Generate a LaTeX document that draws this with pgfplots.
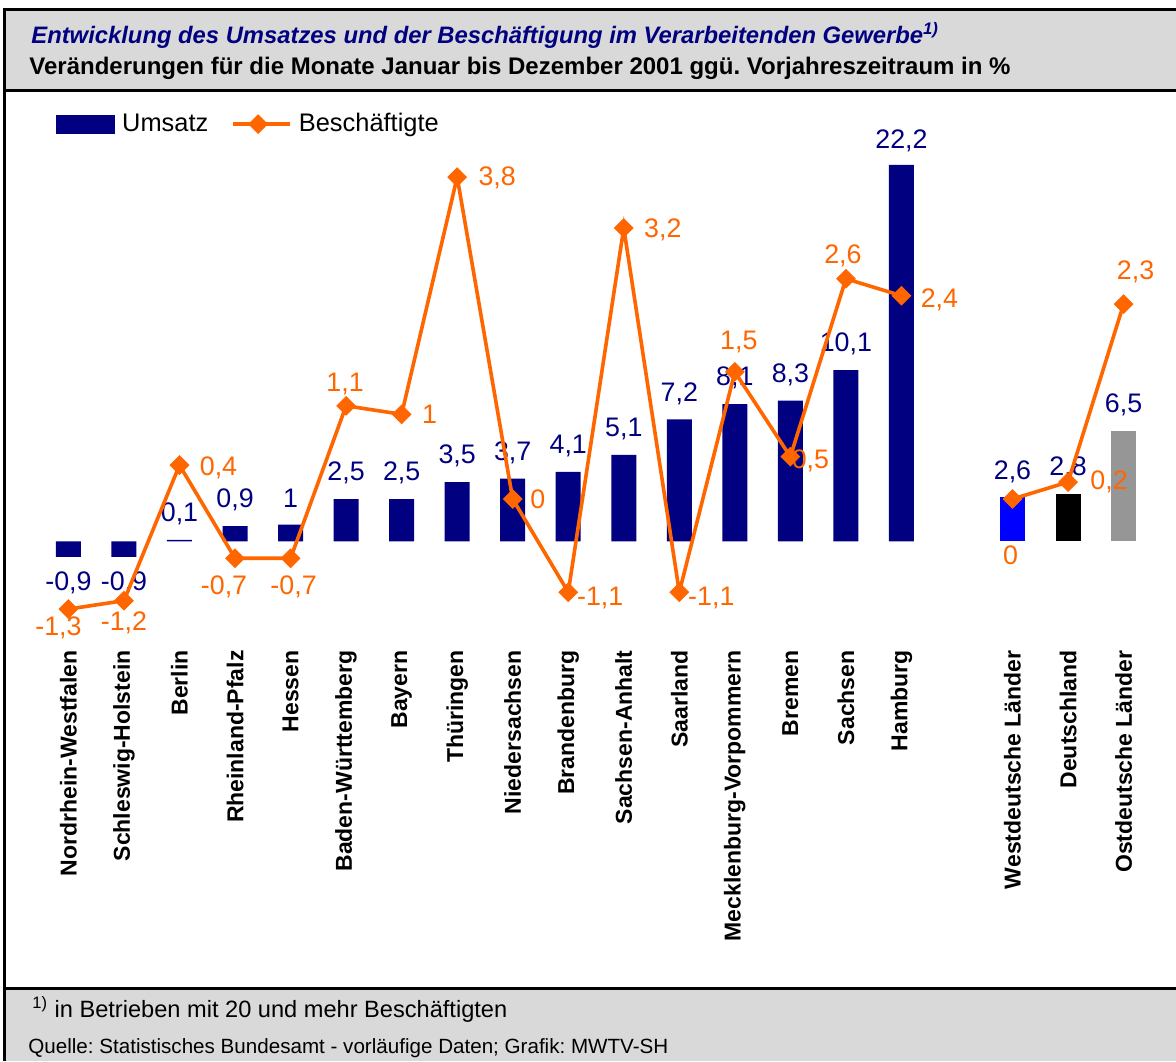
\documentclass[border=0pt]{standalone}
\usepackage{fontspec}
\setmainfont{Liberation Sans}
\usepackage{pgfplots}
\pgfplotsset{compat=1.18}
\frenchspacing

\definecolor{navyc}{HTML}{000080}
\definecolor{orangec}{HTML}{FF6600}
\definecolor{bluec}{HTML}{0000FF}
\definecolor{grayc}{HTML}{969696}
\definecolor{bandc}{HTML}{D9D9D9}

\newcommand{\lbl}{\fontsize{13.4}{15}\selectfont}

\pgfplotsset{
  beschline/.style={orangec, line width=1.8pt, mark=square*,
    mark options={rotate=45, solid, line width=0.4pt}, mark size=3.3pt},
}

\begin{document}
\begin{tikzpicture}
% frame, header and footer (1 unit = 1 px of the reference)
\begin{scope}[x=0.5pt,y=-0.5pt]
\fill[white] (0,0) rectangle (1176,1061);
\fill[bandc] (4,9) rectangle (1176,90);
\fill[bandc] (4,988) rectangle (1176,1061);
\draw[line width=1.5pt] (1176,9.5) -- (4.5,9.5) -- (4.5,1061);
\draw[line width=1.5pt] (4.5,90) -- (1176,90);
\draw[line width=1.5pt] (4.5,988) -- (1176,988);
\node[anchor=base west, inner sep=0pt, text=navyc, font=\bfseries\itshape\fontsize{11.9}{14}\selectfont]
  at (31,43) {Entwicklung des Umsatzes und der Beschäftigung im Verarbeitenden Gewerbe\textsuperscript{1)}};
\node[anchor=base west, inner sep=0pt, font=\bfseries\fontsize{12}{14}\selectfont]
  at (29,74) {Veränderungen für die Monate Januar bis Dezember 2001 ggü. Vorjahreszeitraum in \%};
\node[anchor=base west, inner sep=0pt, font=\fontsize{11.8}{14}\selectfont]
  at (32,1017) {\textsuperscript{1)} in Betrieben mit 20 und mehr Beschäftigten};
\node[anchor=base west, inner sep=0pt, font=\fontsize{10.3}{12}\selectfont]
  at (28,1053) {Quelle: Statistisches Bundesamt - vorläufige Daten; Grafik: MWTV-SH};
\end{scope}

% Umsatz (bars)
\begin{axis}[
  at={(12pt,-310pt)}, anchor=south west,
  scale only axis, width=572pt, height=235pt,
  xmin=-0.8, xmax=19.8, ymin=-4.63, ymax=23.08,
  axis line style={draw=none}, tick style={draw=none},
  ytick=\empty,
  xtick={0,1,2,3,4,5,6,7,8,9,10,11,12,13,14,15,17,18,19},
  xticklabels={Nordrhein-Westfalen,Schleswig-Holstein,Berlin,Rheinland-Pfalz,Hessen,
    Baden-Württemberg,Bayern,Thüringen,Niedersachsen,Brandenburg,Sachsen-Anhalt,
    Saarland,Mecklenburg-Vorpommern,Bremen,Sachsen,Hamburg,
    Westdeutsche Länder,Deutschland,Ostdeutsche Länder},
  xticklabel style={rotate=90, anchor=east, inner sep=0pt,
    font=\bfseries\fontsize{11.5}{13}\selectfont},
  xticklabel shift=15pt,
  clip=false,
]
\addplot[ybar, bar width=12.5pt, bar shift=0pt, fill=navyc, draw=none] coordinates {
  (0,-0.9) (1,-0.9) (2,0.1) (3,0.9) (4,1) (5,2.5) (6,2.5) (7,3.5) (8,3.7)
  (9,4.1) (10,5.1) (11,7.2) (12,8.1) (13,8.3) (14,10.1) (15,22.2)
};
\addplot[ybar, bar width=12.5pt, bar shift=0pt, fill=bluec, draw=none] coordinates {(17,2.6)};
\addplot[ybar, bar width=12.5pt, bar shift=0pt, fill=black, draw=none] coordinates {(18,2.8)};
\addplot[ybar, bar width=12.5pt, bar shift=0pt, fill=grayc, draw=none] coordinates {(19,6.5)};

\begin{scope}[every node/.style={text=navyc, font=\lbl, inner sep=0pt}]
\node[yshift=-13pt] at (axis cs:0,-0.9) {-0,9};
\node[yshift=-13pt] at (axis cs:1,-0.9) {-0,9};
\node[yshift=13pt] at (axis cs:2,0.1) {0,1};
\node[yshift=13pt] at (axis cs:3,0.9) {0,9};
\node[yshift=13pt] at (axis cs:4,1) {1};
\node[yshift=13pt] at (axis cs:5,2.5) {2,5};
\node[yshift=13pt] at (axis cs:6,2.5) {2,5};
\node[yshift=13pt] at (axis cs:7,3.5) {3,5};
\node[yshift=13pt] at (axis cs:8,3.7) {3,7};
\node[yshift=13pt] at (axis cs:9,4.1) {4,1};
\node[yshift=13pt] at (axis cs:10,5.1) {5,1};
\node[yshift=13pt] at (axis cs:11,7.2) {7,2};
\node[yshift=13pt] at (axis cs:12,8.1) {8,1};
\node[yshift=13pt] at (axis cs:13,8.3) {8,3};
\node[yshift=13pt] at (axis cs:14,10.1) {10,1};
\node[yshift=12pt] at (axis cs:15,22.2) {22,2};
\node[yshift=13pt] at (axis cs:17,2.6) {2,6};
\node[yshift=13pt] at (axis cs:18,2.8) {2,8};
\node[yshift=13pt] at (axis cs:19,6.5) {6,5};
\end{scope}
\end{axis}

% Beschaeftigte (line, own scale)
\begin{axis}[
  at={(12pt,-310pt)}, anchor=south west,
  scale only axis, width=572pt, height=235pt,
  xmin=-0.8, xmax=19.8, ymin=-1.4286, ymax=4.12,
  hide axis, clip=false,
  legend columns=2,
  legend cell align=left,
  legend image code/.code={\draw[mark repeat=2,mark phase=2,#1]
    plot coordinates {(0pt,0pt) (12.5pt,0pt) (28.5pt,0pt)};},
  legend style={at={(axis description cs:0.028,1.055)}, anchor=west,
    draw=none, fill=none, inner sep=0pt,
    font=\fontsize{12.7}{14}\selectfont,
    nodes={inner ysep=2pt, inner xsep=3.5pt},
    /tikz/every even column/.append style={column sep=8pt}},
]
\addlegendimage{legend image code/.code={\fill[navyc] (0pt,-4.5pt) rectangle (29pt,4.5pt);}}
\addlegendentry{Umsatz}
\addplot[beschline] coordinates {
  (0,-1.3) (1,-1.2) (2,0.4) (3,-0.7) (4,-0.7) (5,1.1) (6,1) (7,3.8) (8,0)
  (9,-1.1) (10,3.2) (11,-1.1) (12,1.5) (13,0.5) (14,2.6) (15,2.4)
};
\addlegendentry{Beschäftigte}
\addplot[beschline, forget plot] coordinates {
  (17,0) (18,0.2) (19,2.3)
};

\begin{scope}[every node/.style={text=orangec, font=\lbl, inner sep=0pt}]
\node[xshift=-5pt, yshift=-9.5pt] at (axis cs:0,-1.3) {-1,3};
\node[yshift=-11pt] at (axis cs:1,-1.2) {-1,2};
\node[xshift=19.5pt, yshift=-1.5pt] at (axis cs:2,0.4) {0,4};
\node[xshift=-5.5pt, yshift=-14.5pt] at (axis cs:3,-0.7) {-0,7};
\node[xshift=1.5pt, yshift=-14.5pt] at (axis cs:4,-0.7) {-0,7};
\node[xshift=-0.5pt, yshift=11pt] at (axis cs:5,1.1) {1,1};
\node[xshift=14pt] at (axis cs:6,1) {1};
\node[xshift=20pt, yshift=-0.5pt] at (axis cs:7,3.8) {3,8};
\node[xshift=12.5pt] at (axis cs:8,0) {0};
\node[xshift=16pt, yshift=-3pt] at (axis cs:9,-1.1) {-1,1};
\node[xshift=19.5pt, yshift=-1pt] at (axis cs:10,3.2) {3,2};
\node[xshift=16pt, yshift=-3pt] at (axis cs:11,-1.1) {-1,1};
\node[xshift=2pt, yshift=15pt] at (axis cs:12,1.5) {1,5};
\node[xshift=10pt, yshift=-2pt] at (axis cs:13,0.5) {0,5};
\node[xshift=-1.5pt, yshift=11.5pt] at (axis cs:14,2.6) {2,6};
\node[xshift=19pt, yshift=-2pt] at (axis cs:15,2.4) {2,4};
\node[xshift=-1pt, yshift=-28pt] at (axis cs:17,0) {0};
\node[xshift=20.5pt] at (axis cs:18,0.2) {0,2};
\node[xshift=6pt, yshift=16pt] at (axis cs:19,2.3) {2,3};
\end{scope}
\end{axis}

\pgfresetboundingbox
\path[use as bounding box] (0pt,0pt) rectangle (588pt,-530.5pt);
\end{tikzpicture}
\end{document}
